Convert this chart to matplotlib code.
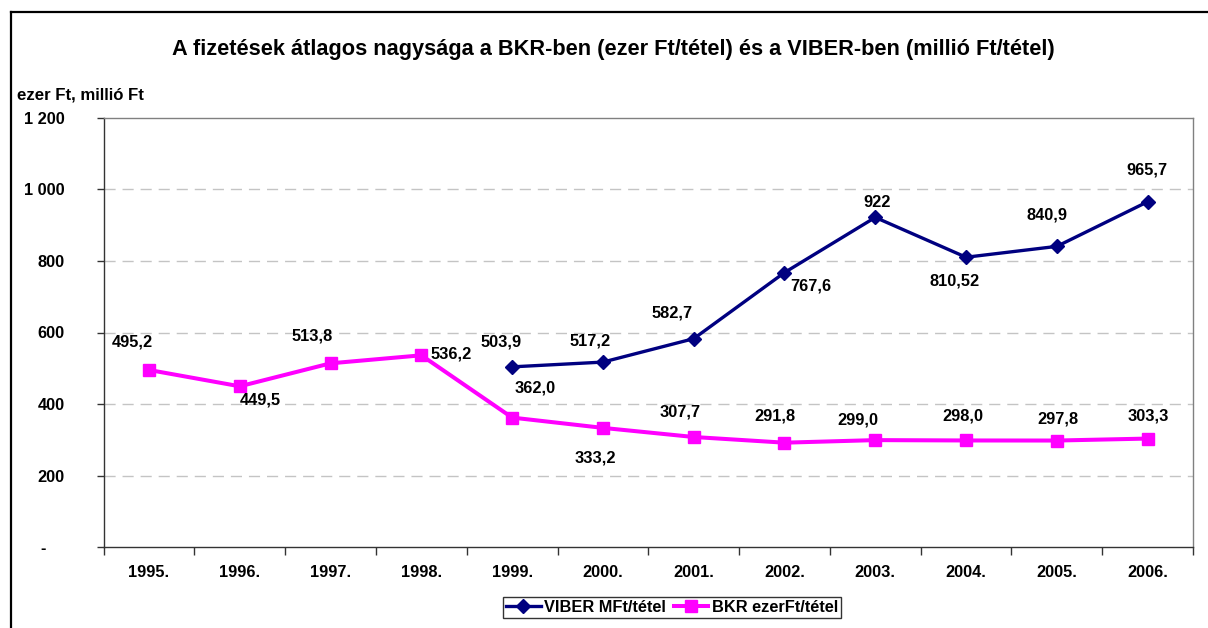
import matplotlib
matplotlib.use("Agg")
import matplotlib.pyplot as plt
from matplotlib.lines import Line2D

years = ["1995.", "1996.", "1997.", "1998.", "1999.", "2000.", "2001.", "2002.",
         "2003.", "2004.", "2005.", "2006."]
viber_years_idx = [4, 5, 6, 7, 8, 9, 10, 11]
viber = [503.9, 517.2, 582.7, 767.6, 922.0, 810.52, 840.9, 965.7]
viber_labels = ["503,9", "517,2", "582,7", "767,6", "922", "810,52", "840,9", "965,7"]
bkr = [495.2, 449.5, 513.8, 536.2, 362.0, 333.2, 307.7, 291.8, 299.0, 298.0, 297.8, 303.3]
bkr_labels = ["495,2", "449,5", "513,8", "536,2", "362,0", "333,2", "307,7", "291,8",
              "299,0", "298,0", "297,8", "303,3"]
yticks = [0, 200, 400, 600, 800, 1000, 1200]
ytick_labels = ["-    ", "200", "400", "600", "800", "1 000", "1 200"]

title = "A fizetések átlagos nagysága a BKR-ben (ezer Ft/tétel) és a VIBER-ben (millió Ft/tétel)"
ylabel = "ezer Ft, millió Ft"
viber_name = "VIBER MFt/tétel"
bkr_name = "BKR ezerFt/tétel"

plt.rcParams['font.family'] = ['Liberation Sans', 'DejaVu Sans']
plt.rcParams['font.weight'] = 'bold'

W, H = 1208, 628
fig = plt.figure(figsize=(W / 100, H / 100), dpi=100)
ax_l, ax_r, ax_t, ax_b = 103.6, 1193, 118, 547
ax = fig.add_axes([ax_l / W, 1 - ax_b / H, (ax_r - ax_l) / W, (ax_b - ax_t) / H])

navy = "#000080"
magenta = "#FF00FF"
FS = 11.8

x_all = list(range(len(years)))
ax.plot(x_all, bkr, color=magenta, lw=2.9, marker='s', ms=8.8, zorder=3, label=bkr_name)
ax.plot(viber_years_idx, viber, color=navy, lw=2.4, marker='D', ms=7.5, zorder=4, label=viber_name)

# label offsets in pixels (dx, dy; dy positive = up) relative to points
bkr_off = [(-17, 28), (21, -14), (-18, 27), (30, 1), (23, 30), (-8, -30), (-14, 25),
           (-10, 27), (-17, 20), (-3, 24), (1, 22), (1, 23)]
viber_off = [(-11, 25), (-13, 21), (-22, 26), (26, -13), (2, 15), (-11, -24), (-10, 31), (-1, 32)]

for i, (v, lab) in enumerate(zip(bkr, bkr_labels)):
    ax.annotate(lab, (i, v), xytext=bkr_off[i], textcoords='offset pixels',
                ha='center', va='center', fontsize=FS, fontweight='bold', color='black')
for j, (i, v, lab) in enumerate(zip(viber_years_idx, viber, viber_labels)):
    ax.annotate(lab, (i, v), xytext=viber_off[j], textcoords='offset pixels',
                ha='center', va='center', fontsize=FS, fontweight='bold', color='black')

ax.set_xlim(-0.5, len(years) - 0.5)
ax.set_ylim(0, 1200)
ax.set_yticks(yticks)
ax.set_yticklabels(ytick_labels, fontsize=FS, fontweight='bold')
ax.tick_params(axis='y', length=5, width=1, pad=23, color='#333333')

ax.set_xticks([i - 0.5 for i in range(len(years) + 1)])
ax.set_xticklabels([])
ax.set_xticks(x_all, minor=True)
ax.set_xticklabels(years, minor=True, fontsize=FS, fontweight='bold')
ax.tick_params(axis='x', which='major', length=6, width=1, direction='out', color='#333333')
ax.tick_params(axis='x', which='minor', length=0, pad=13)

for y in yticks[1:-1]:
    ax.axhline(y, color='#C4C4C4', lw=1, ls=(0, (8, 5)), zorder=1)

ax.spines['left'].set_color('#333333')
ax.spines['bottom'].set_color('#333333')
ax.spines['top'].set_color('#808080')
ax.spines['right'].set_color('#808080')
for s in ax.spines.values():
    s.set_linewidth(1)

fig.text(613.5 / W, 1 - 49 / H, title, ha='center', va='center', fontsize=15.7, fontweight='bold')
fig.text(17 / W, 1 - 95 / H, ylabel, ha='left', va='center', fontsize=12.1, fontweight='bold')

handles = [Line2D([], [], color=navy, lw=2.4, marker='D', ms=7.5),
           Line2D([], [], color=magenta, lw=2.9, marker='s', ms=8.8)]
leg = fig.legend(handles, [viber_name, bkr_name], loc='center',
                 bbox_to_anchor=(672 / W, 1 - 607.5 / H), ncol=2, frameon=True, fancybox=False,
                 prop={'weight': 'bold', 'size': FS}, handlelength=2.1, columnspacing=0.5,
                 handletextpad=0.2, borderpad=0.2, borderaxespad=0)
leg.get_frame().set_edgecolor('black')
leg.get_frame().set_linewidth(1)

# outer frame (extends past right and bottom edges)
fig.add_artist(Line2D([10.5 / W, 10.5 / W], [1 - 12 / H, -0.1], color='black', lw=1.6,
                      transform=fig.transFigure))
fig.add_artist(Line2D([10.5 / W, 1.1], [1 - 12 / H, 1 - 12 / H], color='black', lw=1.6,
                      transform=fig.transFigure))

fig.savefig("out.png", dpi=100)
